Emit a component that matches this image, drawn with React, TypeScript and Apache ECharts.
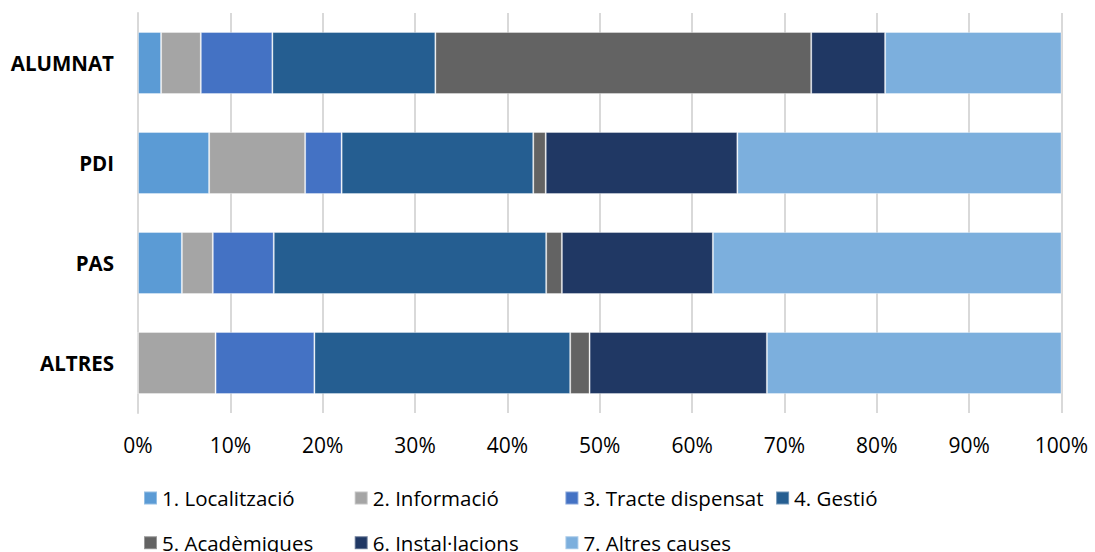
import React, { useEffect, useRef } from "react";
import * as echarts from "echarts";

const categories = ["ALUMNAT", "PDI", "PAS", "ALTRES"];
const seriesNames = [
  "1. Localització",
  "2. Informació",
  "3. Tracte dispensat",
  "4. Gestió",
  "5. Acadèmiques",
  "6. Instal·lacions",
  "7. Altres causes",
];
const localitzacio = [2.5, 7.7, 4.75, 0];
const informacio = [4.3, 10.4, 3.35, 8.4];
const tracte = [7.75, 3.95, 6.6, 10.7];
const gestio = [17.65, 20.75, 29.5, 27.7];
const academiques = [40.7, 1.35, 1.7, 2.1];
const installacions = [8.0, 20.75, 16.35, 19.2];
const altres = [19.1, 35.1, 37.75, 31.9];
const xTicks = [0, 10, 20, 30, 40, 50, 60, 70, 80, 90, 100];

const seriesValues = [localitzacio, informacio, tracte, gestio, academiques, installacions, altres];
const colors = ["#5B9BD5", "#A5A5A5", "#4472C4", "#255E91", "#636363", "#203864", "#7CAFDD"];

const FONT = "'Open Sans', Lato, sans-serif";

export default function App() {
  const ref = useRef<HTMLDivElement>(null);
  useEffect(() => {
    document.body.style.margin = "0";
    if (!ref.current) return;
    const chart = echarts.init(ref.current, null, { renderer: "svg" });
    const legends = seriesNames.map((name, i) => {
      const row = i < 4 ? 0 : 1;
      const col = i < 4 ? i : i - 4;
      return {
        orient: "horizontal" as const,
        left: 143 + col * 210.7,
        top: row === 0 ? 486 : 530.7,
        itemWidth: 13,
        itemHeight: 13,
        itemGap: 5,
        icon: "rect",
        padding: 0,
        data: [name],
        textStyle: { fontFamily: FONT, fontSize: 20.5, color: "#000", lineHeight: 24, padding: [0, 0, 0, 0] },
      };
    });
    chart.setOption({
      animation: false,
      color: colors,
      textStyle: { fontFamily: FONT },
      grid: { left: 138, right: 33.5, top: 13, bottom: 139, containLabel: false },
      xAxis: {
        type: "value",
        min: xTicks[0],
        max: xTicks[xTicks.length - 1],
        interval: 10,
        axisLine: { show: false },
        axisTick: { show: false },
        splitLine: { show: true, lineStyle: { color: "#d9d9d9", width: 2 } },
        axisLabel: { formatter: "{value}%", fontSize: 21, color: "#000", margin: 21, fontFamily: FONT },
      },
      yAxis: {
        type: "category",
        data: categories,
        inverse: true,
        axisLine: { show: true, lineStyle: { color: "#d9d9d9", width: 2 } },
        axisTick: { show: false },
        axisLabel: { fontSize: 20.5, fontWeight: "bold", color: "#000", margin: 24, fontFamily: FONT },
      },
      legend: legends,
      series: seriesNames.map((name, i) => ({
        name,
        type: "bar",
        stack: "total",
        barWidth: 62,
        data: seriesValues[i],
        itemStyle: { borderColor: "rgba(255,255,255,0.35)", borderWidth: 1 },
      })),
    });
    return () => chart.dispose();
  }, []);
  return <div ref={ref} style={{ width: 1095, height: 552 }} />;
}
